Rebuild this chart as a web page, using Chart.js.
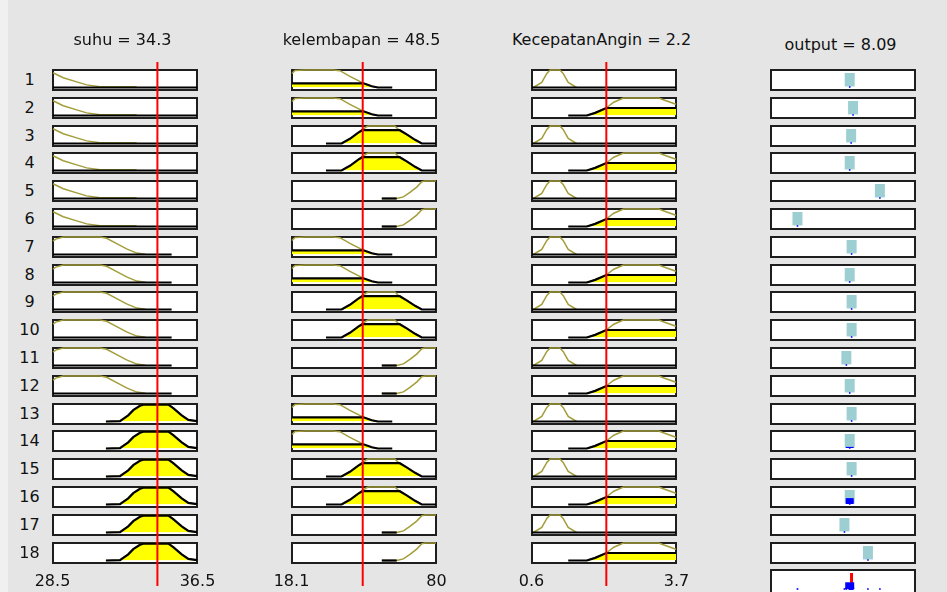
<!DOCTYPE html>
<html><head><meta charset="utf-8">
<script src="https://cdn.jsdelivr.net/npm/chart.js@4.4.1/dist/chart.umd.min.js"></script>
<style>
html,body{margin:0;padding:0;}
body{width:947px;height:592px;overflow:hidden;background:#f0f0f0;position:relative;font-family:"DejaVu Sans",sans-serif;}
#fig{position:absolute;left:8px;top:0;width:939px;height:592px;background:#e5e5e5;}
.lbl{position:absolute;color:#111;font-size:16px;white-space:nowrap;line-height:1;transform:translateX(-50%);}
canvas{position:absolute;display:block;}
canvas.panel{background:#fff;}
</style></head><body><div id="fig"></div>
<script>
// ---------------- DATA ----------------
const ruleNumbers = ['1','2','3','4','5','6','7','8','9','10','11','12','13','14','15','16','17','18'];
const inputTitles = ['suhu = 34.3', 'kelembapan = 48.5', 'KecepatanAngin = 2.2'];
const outputTitle = 'output = 8.09';
const inputValues = [34.3, 48.5, 2.2];
const inputMin = [28.5, 18.1, 0.6];
const inputMax = [36.5, 80, 3.7];
const inputTickLabels = [['28.5','36.5'], ['18.1','80'], ['0.6','3.7']];

// membership function used by each rule (index into the MF lists below)
const suhuRuleMF       = [0,0,0,0,0,0,1,1,1,1,1,1,2,2,2,2,2,2];
const kelembapanRuleMF = [0,0,1,1,2,2,0,0,1,1,2,2,0,0,1,1,2,2];
const anginRuleMF      = [0,1,0,1,0,1,0,1,0,1,0,1,0,1,0,1,0,1];

// suhu MFs (curve) and their fired areas (patch)
const suhuMF0x = [28.5, 29.07, 29.82, 30.37, 31.11, 33.15];
const suhuMF0y = [0.84, 0.56, 0.32, 0.15, 0.04, 0.04];
const suhuFire0x = [28.5, 36.5];
const suhuFire0y = [0, 0];
const suhuMF1x = [28.5, 28.65, 29.07, 31.11, 31.48, 32.04, 32.59, 33.15, 33.65];
const suhuMF1y = [0.77, 0.88, 1, 1, 0.93, 0.62, 0.32, 0.08, 0.02];
const suhuFire1x = [28.5, 35.09];
const suhuFire1y = [0, 0];
const suhuMF2x = [31.44, 32.22, 32.68, 32.96, 33.33, 33.52, 34.91, 35.18, 35.65, 36.02, 36.5];
const suhuMF2y = [0, 0.02, 0.35, 0.65, 0.9, 0.98, 0.98, 0.76, 0.35, 0.09, 0.02];
const suhuFire2x = [31.44, 32.22, 32.68, 32.96, 33.33, 33.52, 34.91, 35.18, 35.65, 36.02, 36.5];
const suhuFire2y = [0, 0.02, 0.35, 0.65, 0.9, 0.96, 0.96, 0.76, 0.35, 0.09, 0.02];

// kelembapan MFs
const kelMF0x = [18.1, 19.4, 23.7, 35.85, 38.7, 43.0, 46.6, 49.5, 52.4, 55.0];
const kelMF0y = [0.8, 0.97, 1, 1, 0.96, 0.64, 0.39, 0.19, 0.07, 0];
const kelFire0x = [18.1, 48.8, 52.4, 55.0, 61.2];
const kelFire0y = [0.24, 0.24, 0.07, 0, 0];
const kelMF1x = [39.4, 43.0, 46.6, 48.7, 50.2, 50.9, 62.3, 63.7, 67.4, 71.0, 73.9];
const kelMF1y = [0, 0.27, 0.62, 0.82, 0.96, 1, 1, 0.82, 0.52, 0.21, 0];
const kelFire1x = [32.7, 39.4, 43.0, 46.6, 48.3, 64.4, 67.4, 71.0, 73.9, 80];
const kelFire1y = [0, 0, 0.27, 0.62, 0.76, 0.76, 0.52, 0.21, 0, 0];
const kelMF2x = [56.7, 63.1, 66.0, 68.8, 71.7, 73.9, 75.3, 80];
const kelMF2y = [0, 0, 0.09, 0.35, 0.65, 0.96, 1, 1];
const kelFire2x = [56.7, 63.1];
const kelFire2y = [0, 0];

// KecepatanAngin MFs
const anginMF0x = [0.63, 0.81, 0.92, 0.99, 1.20, 1.27, 1.38, 1.56];
const anginMF0y = [0, 0.29, 0.8, 1, 1, 0.8, 0.29, 0];
const anginFire0x = [0.6, 3.7];
const anginFire0y = [0, 0];
const anginMF1x = [1.78, 1.96, 2.2, 2.36, 2.57, 3.33, 3.47, 3.7];
const anginMF1y = [0, 0.15, 0.43, 0.76, 1, 1, 0.86, 0.64];
const anginFire1x = [1.38, 1.78, 1.96, 2.2, 3.7];
const anginFire1y = [0, 0, 0.15, 0.43, 0.43];

// output (Sugeno) per rule
const outputMin = 0, outputMax = 14.4;
const outputValue = 8.09;
const ruleOutput = [7.9, 8.25, 8.05, 7.9, 11.05, 2.45, 8.1, 7.9, 8.1, 8.1, 7.55, 7.9, 8.1, 7.9, 8.1, 7.9, 7.35, 9.8];
const ruleFiring = [0, 0, 0, 0, 0, 0, 0, 0, 0, 0, 0, 0, 0, 0.08, 0, 0.42, 0, 0];

// ---------------- LAYOUT / STYLE ----------------
const colLeft = [52, 291, 531, 770];
const boxW = 146, boxH = 22, rowTop0 = 69, rowPitch = 27.8;
const OLIVE = '#a39d3a', CYAN = '#9dcfd2', BLUE = '#0000ff', RED = '#ff0000', FRAME = '#1e1e1e';

Chart.defaults.animation = false;
Chart.defaults.events = [];
Chart.defaults.plugins.legend.display = false;
Chart.defaults.plugins.tooltip.enabled = false;

const pts = (xs, ys) => xs.map((x, i) => ({x: x, y: ys[i]}));

const inputMFs = [
  [[suhuMF0x, suhuMF0y, suhuFire0x, suhuFire0y], [suhuMF1x, suhuMF1y, suhuFire1x, suhuFire1y], [suhuMF2x, suhuMF2y, suhuFire2x, suhuFire2y]],
  [[kelMF0x, kelMF0y, kelFire0x, kelFire0y], [kelMF1x, kelMF1y, kelFire1x, kelFire1y], [kelMF2x, kelMF2y, kelFire2x, kelFire2y]],
  [[anginMF0x, anginMF0y, anginFire0x, anginFire0y], [anginMF1x, anginMF1y, anginFire1x, anginFire1y]]
];
const ruleMF = [suhuRuleMF, kelembapanRuleMF, anginRuleMF];

function addCanvas(left, top, w, h, cls) {
  const c = document.createElement('canvas');
  c.width = w; c.height = h;
  c.style.left = left + 'px'; c.style.top = top + 'px';
  c.style.width = w + 'px'; c.style.height = h + 'px';
  if (cls) c.className = cls;
  document.body.appendChild(c);
  return c;
}
function addLabel(text, cx, top) {
  const d = document.createElement('div');
  d.className = 'lbl'; d.textContent = text;
  d.style.left = cx + 'px'; d.style.top = top + 'px';
  document.body.appendChild(d);
}
function framePlugin(bottom) {
  return {
    id: 'frame',
    beforeDatasetsDraw(chart) {
      const ctx = chart.ctx, w = chart.width, h = chart.height;
      ctx.save();
      ctx.fillStyle = FRAME;
      ctx.fillRect(0, 0, w, 2);
      ctx.fillRect(0, 0, 2, h);
      ctx.fillRect(w - 2, 0, 2, h);
      if (bottom) ctx.fillRect(0, h - 2, w, 2);
      ctx.restore();
    }
  };
}
function makeChart(canvas, datasets, xmin, xmax, pad, plugins) {
  return new Chart(canvas, {
    type: 'line',
    data: { datasets: datasets },
    options: {
      responsive: false,
      devicePixelRatio: 1,
      layout: { padding: pad },
      elements: { point: { radius: 0 }, line: { tension: 0 } },
      scales: {
        x: { type: 'linear', display: false, min: xmin, max: xmax },
        y: { type: 'linear', display: false, min: 0, max: 1 }
      }
    },
    plugins: plugins || []
  });
}

// ---------------- INPUT COLUMNS ----------------
for (let c = 0; c < 3; c++) {
  for (let r = 0; r < ruleNumbers.length; r++) {
    const top = Math.round(rowTop0 + r * rowPitch);
    const mf = inputMFs[c][ruleMF[c][r]];
    const cv = addCanvas(colLeft[c], top, boxW, boxH, 'panel');
    makeChart(cv, [
      { data: pts(mf[2], mf[3]), borderColor: '#000', borderWidth: 2.2, backgroundColor: '#ffff00', fill: 'origin', clip: false },
      { data: pts(mf[0], mf[1]), borderColor: OLIVE, borderWidth: 1.5, fill: false, clip: false }
    ], inputMin[c], inputMax[c], { left: 1, right: 1, top: 1, bottom: 3.5 }, [framePlugin(true)]);
  }
  // red input line across the column
  const ov = addCanvas(colLeft[c], 62, boxW, 524);
  makeChart(ov, [
    { data: [{x: inputValues[c], y: 0}, {x: inputValues[c], y: 1}], borderColor: RED, borderWidth: 2, fill: false }
  ], inputMin[c], inputMax[c], { left: 1, right: 1, top: 0, bottom: 0 });

  addLabel(inputTitles[c], colLeft[c] + boxW / 2 - 2.5, 31.5);
  addLabel(inputTickLabels[c][0], colLeft[c] + 0.5, 573.2);
  addLabel(inputTickLabels[c][1], colLeft[c] + boxW - 0.5, 573.2);
}

// ---------------- OUTPUT COLUMN ----------------
for (let r = 0; r < ruleNumbers.length; r++) {
  const top = Math.round(rowTop0 + r * rowPitch);
  const cv = addCanvas(colLeft[3], top, boxW, boxH, 'panel');
  makeChart(cv, [
    { data: [{x: ruleOutput[r], y: 0}, {x: ruleOutput[r], y: ruleFiring[r]}], borderColor: BLUE, borderWidth: 8, fill: false,
      pointRadius: [1.1, 0], pointStyle: 'rect', pointBackgroundColor: BLUE, pointBorderWidth: 0, clip: false },
    { data: [{x: ruleOutput[r], y: 0.04}, {x: ruleOutput[r], y: 1}], borderColor: CYAN, borderWidth: 10, fill: false, clip: false }
  ], outputMin, outputMax, { left: 1, right: 1, top: 0, bottom: 2.7 }, [framePlugin(true)]);
  addLabel(ruleNumbers[r], 29.5, top + 3.4);
}
// aggregated output row
{
  const top = Math.round(rowTop0 + ruleNumbers.length * rowPitch);
  const cv = addCanvas(colLeft[3], top, boxW, 24, 'panel');
  const ds = ruleOutput.map((v, i) => ({
    data: [{x: v, y: 0}, {x: v, y: ruleFiring[i]}], borderColor: BLUE, borderWidth: 9, fill: false,
    pointRadius: [1.2, 0], pointStyle: 'rect', pointBackgroundColor: BLUE, pointBorderWidth: 0, clip: false
  }));
  ds.push({ data: [{x: outputValue, y: 0}, {x: outputValue, y: 1}], borderColor: RED, borderWidth: 3, fill: false, clip: false });
  makeChart(cv, ds, outputMin, outputMax, { left: 1, right: 1, top: 0, bottom: 2.5 }, [framePlugin(false)]);
}
addLabel(outputTitle, colLeft[3] + boxW / 2 - 2.5, 36.5);
</script>
</body></html>
